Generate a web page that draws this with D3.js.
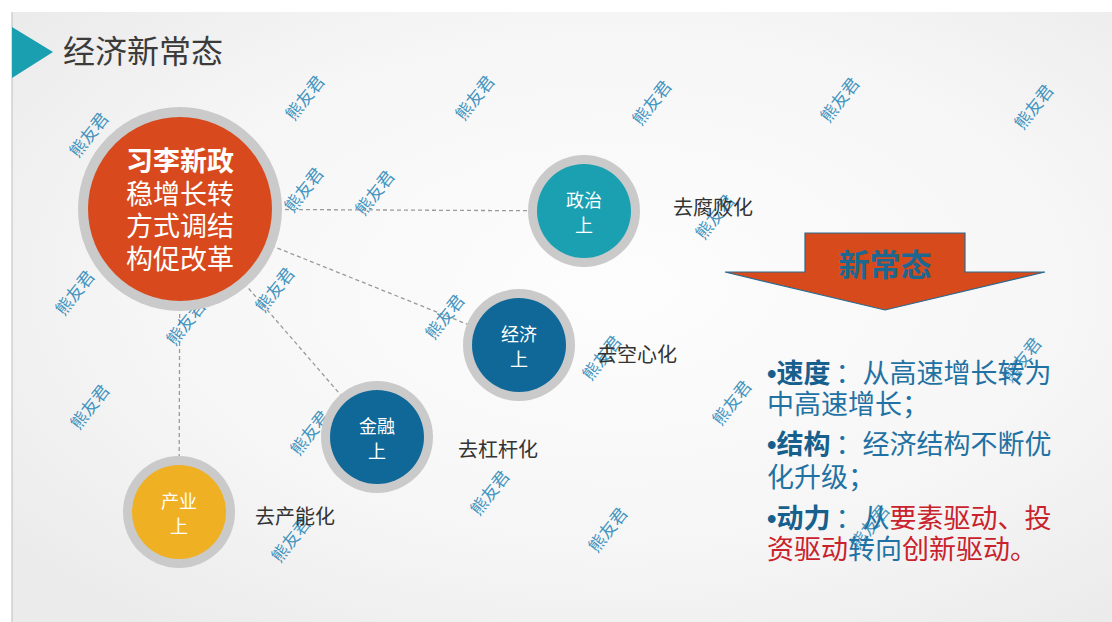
<!DOCTYPE html>
<html>
<head>
<meta charset="utf-8">
<script src="https://cdn.jsdelivr.net/npm/d3@7"></script>
<style>
  html, body { margin: 0; padding: 0; background: #fff; }
  svg { display: block; font-family: "Noto Sans CJK SC", "Noto Sans", sans-serif; }
</style>
</head>
<body>
<svg id="slide" width="1112" height="622"></svg>
<script>
// slide content (coordinates are in slide units, origin at the slide's top-left)
const titleText = "经济新常态";
const hubLines = ["习李新政", "稳增长转", "方式调结", "构促改革"];
const hubPos = [168, 197];

const nodeNames = ["政治", "经济", "金融", "产业"];
const nodeColors = ["#1ba0b2", "#0f6898", "#0f6898", "#f0b024"];
const nodeX = [572, 507, 365, 167];
const nodeY = [199, 333, 425, 500];

const tagTexts = ["去腐败化", "去空心化", "去杠杆化", "去产能化"];
const tagX = [661, 585, 446, 243];
const tagY = [203, 350, 445, 512];

const arrowLabel = "新常态";

// right hand text block, one array per line, segments [text, kind]
const noteLines = [
  [["•", "dot"], ["速度", "head"], ["：", "colon"], ["从高速增长转为", "blue"]],
  [["中高速增长；", "blue"]],
  [["•", "dot"], ["结构", "head"], ["：", "colon"], ["经济结构不断优", "blue"]],
  [["化升级；", "blue"]],
  [["•", "dot"], ["动力", "head"], ["：", "colon"], ["从", "blue"], ["要素驱动、投", "red"]],
  [["资驱动", "red"], ["转向", "blue"], ["创新驱动。", "red"]]
];
const noteBaseY = [371, 402, 442, 475, 516, 547];

const markText = "熊友君";
const markX = [77, 293, 463, 640, 828, 1022, 292, 363, 703, 63, 263, 174, 433, 590, 1010, 78, 720, 298, 478, 858, 596, 279];
const markY = [123, 86, 86, 91, 88, 95, 178, 181, 205, 281, 278, 311, 305, 346, 348, 395, 391, 421, 481, 515, 518, 528];

const svg = d3.select("#slide");
const W = +svg.attr("width"), H = +svg.attr("height");

// slide frame sits 12px in from the top/left of the picture
const x = d3.scaleLinear().domain([0, 1100]).range([12, 1112]);
const y = d3.scaleLinear().domain([0, 610]).range([12, 622]);

const defs = svg.append("defs");
const bg = defs.append("radialGradient").attr("id", "bg")
  .attr("cx", "55%").attr("cy", "45%").attr("r", "70%");
bg.append("stop").attr("offset", "0%").attr("stop-color", "#fdfdfd");
bg.append("stop").attr("offset", "60%").attr("stop-color", "#f6f6f6");
bg.append("stop").attr("offset", "100%").attr("stop-color", "#ebebeb");

svg.append("rect").attr("width", W).attr("height", H).attr("fill", "#fff");
svg.append("rect").attr("x", x(0)).attr("y", y(0))
  .attr("width", x(1100) - x(0)).attr("height", y(610) - y(0))
  .attr("fill", "url(#bg)");
svg.append("line").attr("x1", x(0)).attr("x2", x(0)).attr("y1", y(0)).attr("y2", y(610))
  .attr("stroke", "#bdbdbd").attr("stroke-width", 1);

// title
svg.append("path")
  .attr("d", `M${x(0)},${y(15)} L${x(41)},${y(40)} L${x(0)},${y(66)} Z`)
  .attr("fill", "#1a9fb0");
svg.append("text").attr("x", x(51)).attr("y", y(51))
  .attr("font-size", 32).attr("fill", "#3b3b3b").text(titleText);

// dashed connectors from the hub to each node
svg.append("g").selectAll("line").data(nodeNames).join("line")
  .attr("x1", x(hubPos[0])).attr("y1", y(hubPos[1]))
  .attr("x2", (d, i) => x(nodeX[i])).attr("y2", (d, i) => y(nodeY[i]))
  .attr("stroke", "#9a9a9a").attr("stroke-width", 1.3)
  .attr("stroke-dasharray", "4,3");

// watermarks (drawn under the circles)
svg.append("g").selectAll("text").data(markX).join("text")
  .attr("transform", (d, i) => `translate(${x(d)},${y(markY[i])}) rotate(-52)`)
  .attr("text-anchor", "middle").attr("dy", "0.35em")
  .attr("font-size", 17).attr("fill", "#2b88b8").attr("fill-opacity", 0.9)
  .text(markText);

// hub circle
svg.append("circle").attr("cx", x(hubPos[0])).attr("cy", y(hubPos[1]))
  .attr("r", 102).attr("fill", "#cacaca");
svg.append("circle").attr("cx", x(hubPos[0])).attr("cy", y(hubPos[1]))
  .attr("r", 92).attr("fill", "#d84a1d");
svg.append("text")
  .attr("x", x(hubPos[0])).attr("y", y(hubPos[1]) - 38)
  .attr("text-anchor", "middle").attr("font-size", 27).attr("fill", "#fff")
  .selectAll("tspan").data(hubLines).join("tspan")
  .attr("x", x(hubPos[0]))
  .attr("dy", (d, i) => i === 0 ? 0 : 32.5)
  .attr("font-weight", (d, i) => i === 0 ? 700 : 400)
  .text(d => d);

// small nodes
const node = svg.append("g").selectAll("g").data(nodeNames).join("g")
  .attr("transform", (d, i) => `translate(${x(nodeX[i])},${y(nodeY[i])})`);
node.append("circle").attr("r", 56).attr("fill", "#cacaca");
node.append("circle").attr("r", 47).attr("fill", (d, i) => nodeColors[i]);
node.append("text").attr("text-anchor", "middle").attr("y", -4)
  .attr("font-size", 18).attr("fill", "#fff").text(d => d);
node.append("text").attr("text-anchor", "middle").attr("y", 21)
  .attr("font-size", 18).attr("fill", "#fff").text("上");

svg.append("g").selectAll("text").data(tagTexts).join("text")
  .attr("x", (d, i) => x(tagX[i])).attr("y", (d, i) => y(tagY[i]))
  .attr("font-size", 20).attr("fill", "#333").text(d => d);

// big down arrow
const ax = [713, 793, 953, 1033, 873];
const ay = [221, 260, 298];
svg.append("path")
  .attr("d", `M${x(ax[1])},${y(ay[0])} L${x(ax[2])},${y(ay[0])} L${x(ax[2])},${y(ay[1])}
    L${x(ax[3])},${y(ay[1])} L${x(ax[4])},${y(ay[2])} L${x(ax[0])},${y(ay[1])}
    L${x(ax[1])},${y(ay[1])} Z`)
  .attr("fill", "#d74a1c").attr("stroke", "#2a6a90").attr("stroke-width", 1.2);
svg.append("text").attr("x", x(ax[4])).attr("y", y(ay[1]) + 4)
  .attr("text-anchor", "middle").attr("font-size", 31).attr("font-weight", 700)
  .attr("fill", "#1d6791").text(arrowLabel);

// text block
const kindFill = { dot: "#175f8c", head: "#175f8c", colon: "#1f72a3", blue: "#1f72a3", red: "#c9222c" };
const note = svg.append("g").selectAll("text").data(noteLines).join("text")
  .attr("x", x(755)).attr("y", (d, i) => y(noteBaseY[i]))
  .attr("font-size", 27);
note.selectAll("tspan").data(d => d).join("tspan")
  .attr("fill", d => kindFill[d[1]])
  .attr("font-family", d => d[1] === "dot" ? "Liberation Sans, sans-serif" : null)
  .attr("font-weight", d => d[1] === "head" || d[1] === "dot" ? 700 : 400)
  .attr("dx", d => d[1] === "colon" ? 5 : null)
  .text(d => d[0]);
</script>
</body>
</html>
